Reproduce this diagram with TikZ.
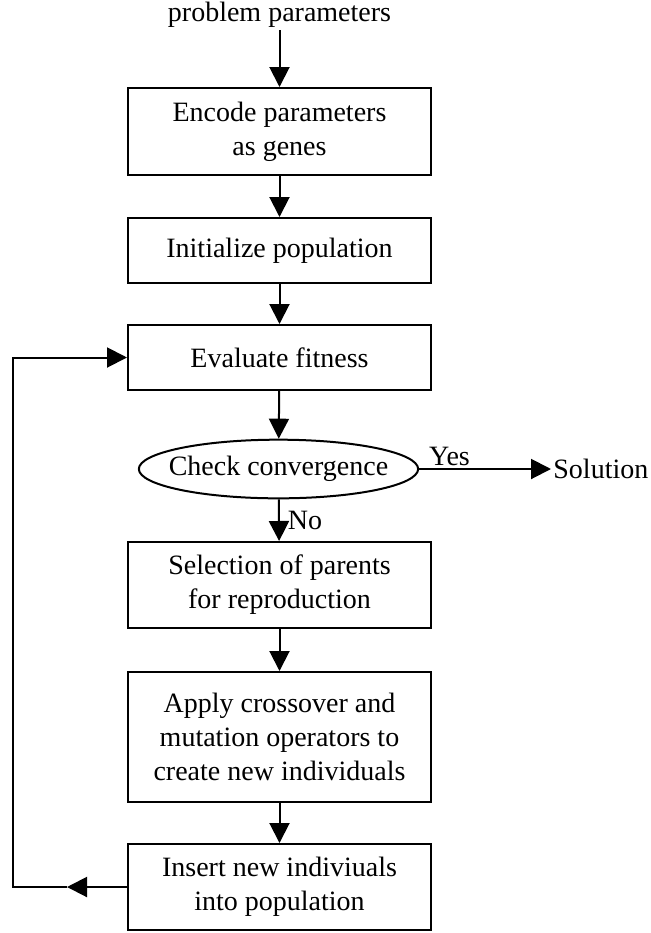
\documentclass[tikz,border=0pt]{standalone}
\usepackage{fontspec}
\setmainfont{Liberation Serif}
\usetikzlibrary{arrows.meta, positioning, shapes.geometric}

\begin{document}
\begin{tikzpicture}[
    x=0.5pt, y=-0.5pt,
    font=\fontsize{14}{17}\selectfont,
    stage/.style={rectangle, draw=black, line width=1pt, minimum width=151.5pt, minimum height=#1, align=center, inner sep=2pt},
    test/.style={ellipse, draw=black, line width=1pt, inner xsep=-5.5pt, inner ysep=4pt},
    flow/.style={-{Triangle[length=10pt, width=10pt]}, line width=1pt},
    lbl/.style={inner sep=1pt}
  ]
  \useasboundingbox (0,0) rectangle (651,933);

  % Input
  \node[lbl] (input) at (279.5,15) {problem parameters};

  % Main stages
  \node[stage=43.5pt] (encode) at (279.5,131.5) {Encode parameters\\as genes};
  \node[stage=32.5pt] (init) at (279.5,250.5) {Initialize population};
  \node[stage=32.5pt] (eval) at (279.5,357.5) {Evaluate fitness};
  \node[test] (check) at (278.5,469) {Check convergence};
  \node[lbl, anchor=west] (sol) at (551,469) {Solution};
  \node[stage=43pt] (select) at (279.5,585) {Selection of parents\\for reproduction};
  \node[stage=65pt] (apply) at (279.5,737) {Apply crossover and\\mutation operators to\\create new individuals};
  \node[stage=43pt] (insert) at (279.5,887) {Insert new indiviuals\\into population};

  % Flow
  \draw[flow] (input) -- (encode);
  \draw[flow] (encode) -- (init);
  \draw[flow] (init) -- (eval);
  \draw[flow] (eval) -- (check);
  \draw[flow] (check) -- node[lbl, above, pos=0.23] {Yes} (sol);
  \draw[flow] (check) -- node[lbl, right=3pt] {No} (select);
  \draw[flow] (select) -- (apply);
  \draw[flow] (apply) -- (insert);

  % Loop back
  \coordinate (backtip) at (67,887);
  \coordinate (loopturn) at (13,887);
  \draw[flow] (insert.west) -- (backtip);
  \draw[flow] (backtip) -- (loopturn) |- (eval.west);

\end{tikzpicture}
\end{document}
